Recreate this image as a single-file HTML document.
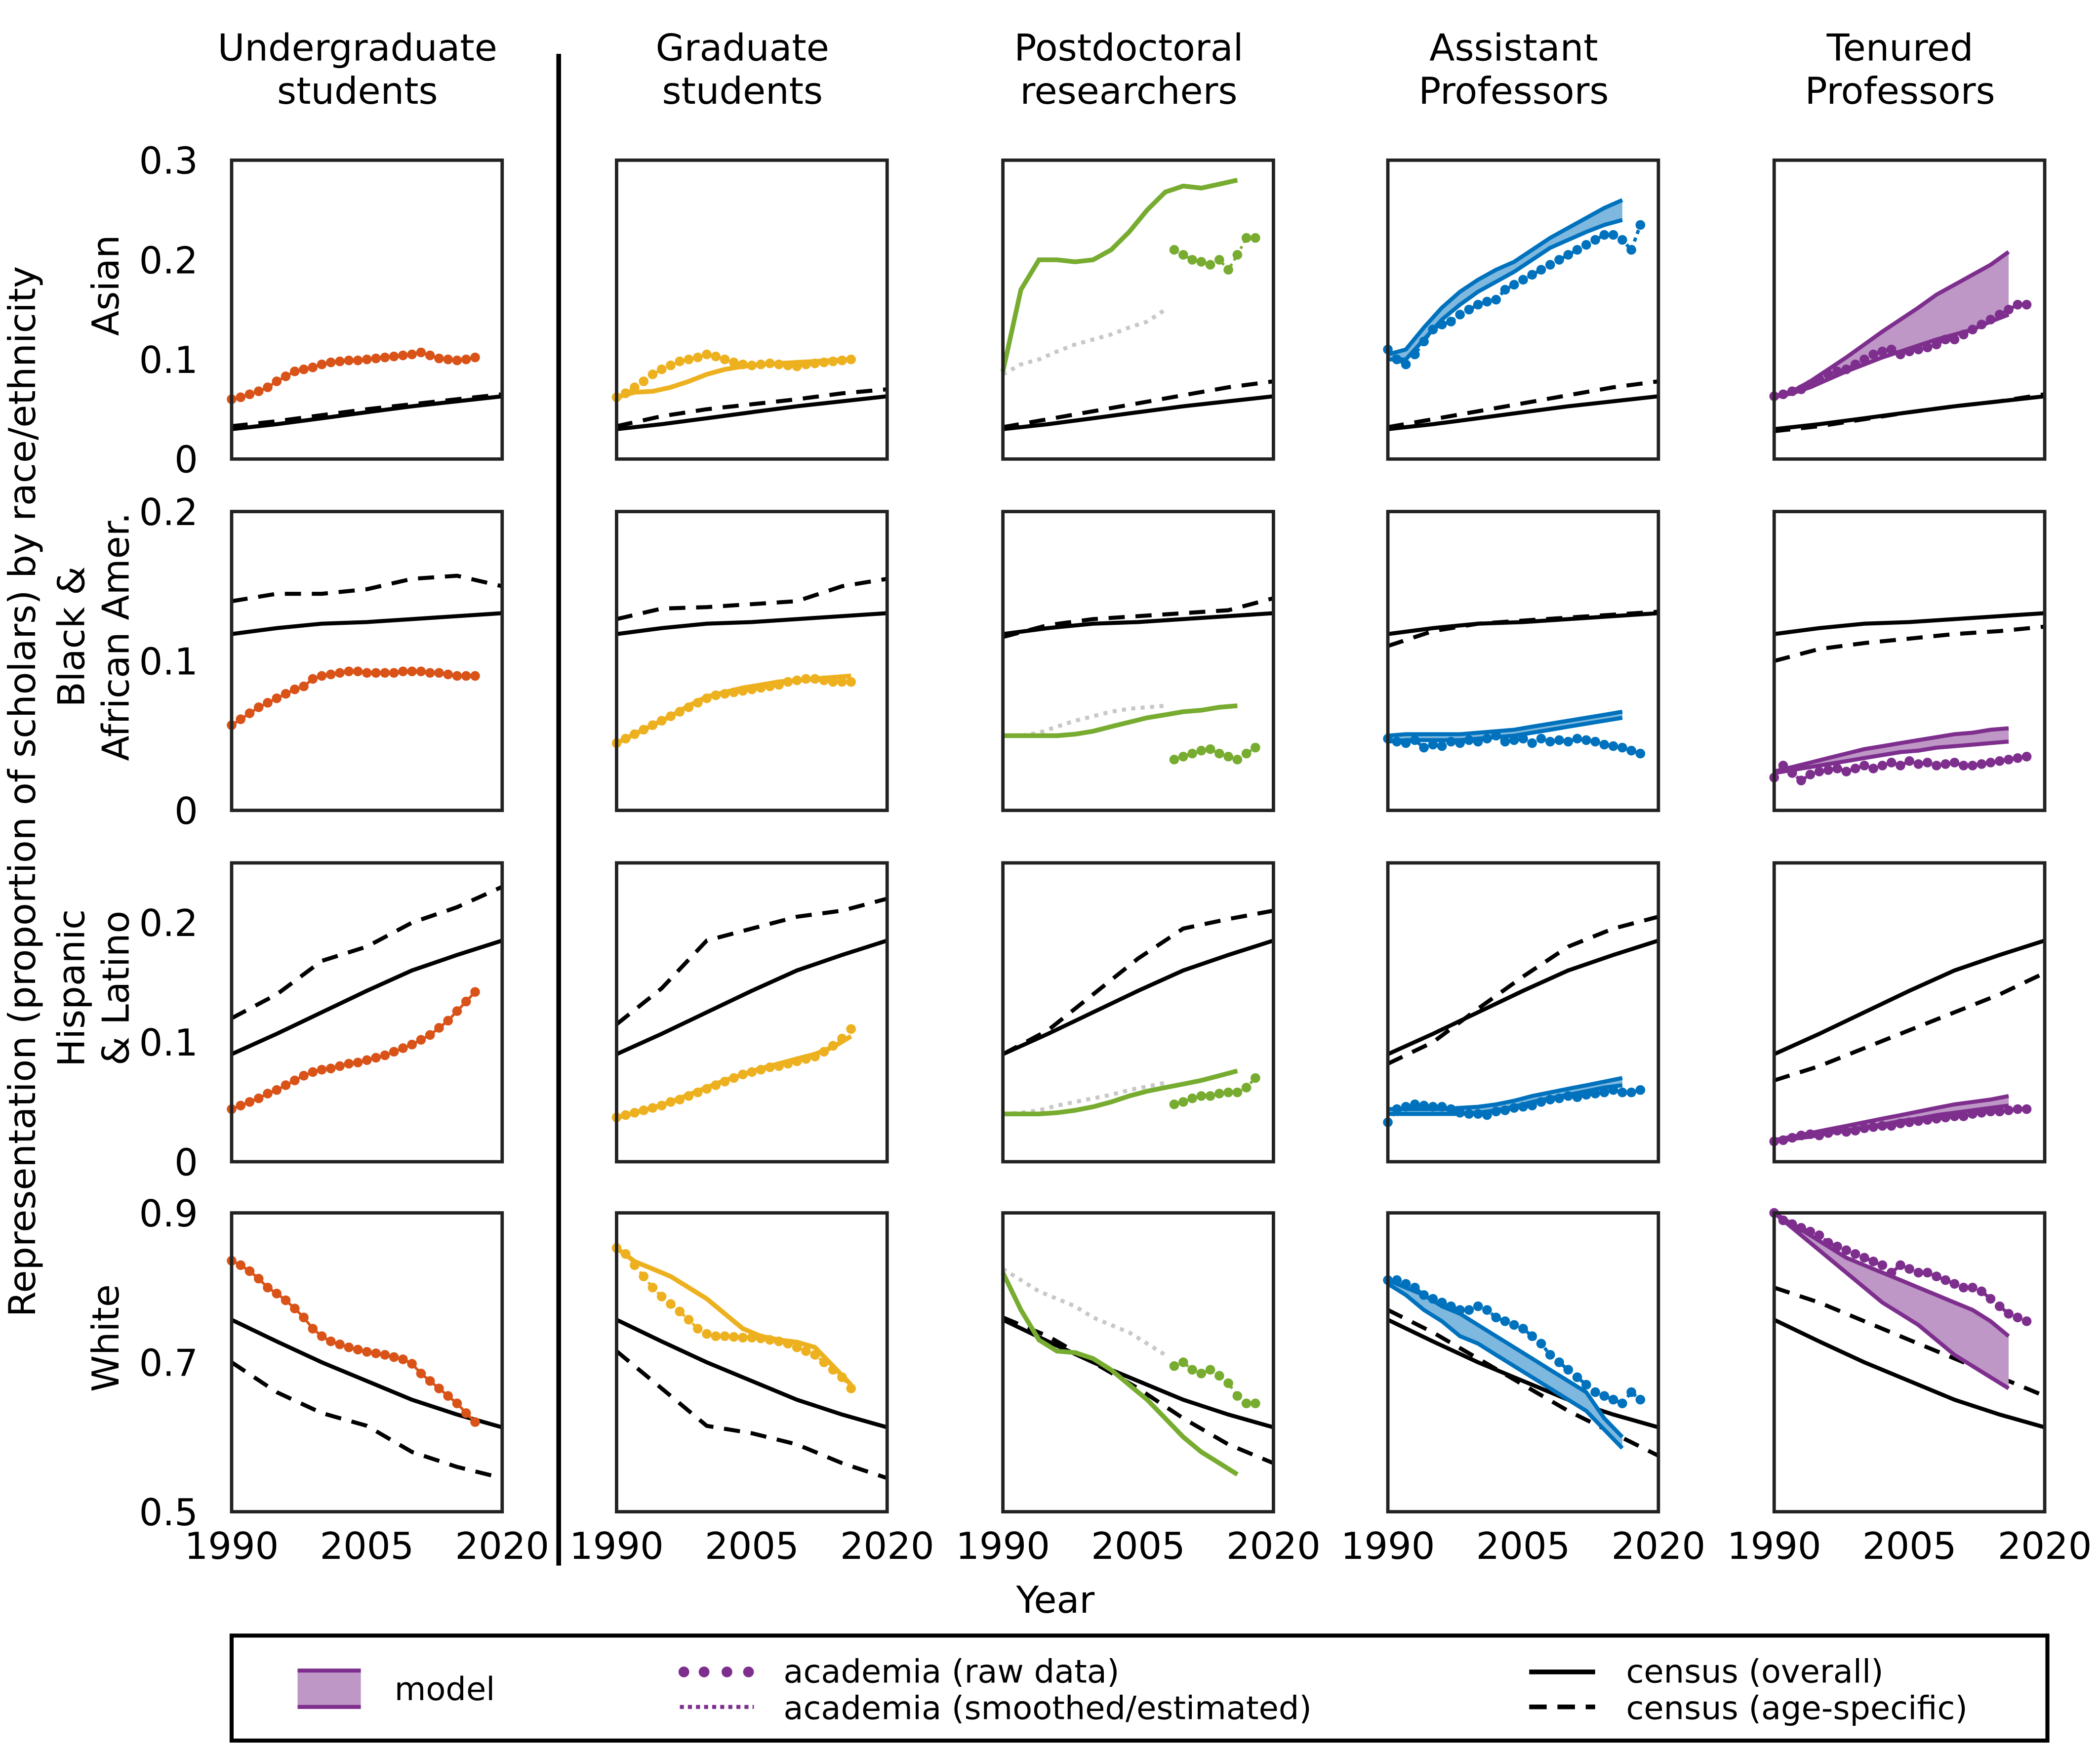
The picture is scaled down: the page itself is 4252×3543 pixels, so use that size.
<!DOCTYPE html>
<html><head><meta charset="utf-8"><style>
html,body{margin:0;padding:0;background:#fff}
svg{display:block;font-family:"DejaVu Sans","Liberation Sans",sans-serif}
</style></head><body>
<svg id="chart" xmlns="http://www.w3.org/2000/svg" width="4252" height="3543" viewBox="0 0 1560 1300">
<rect width="1560" height="1300" fill="#fff"/>
</svg>
<script>
// ---- data ----
const censusYears = [1990,1995,2000,2005,2010,2015,2020];
const overallAsian = [0.03,0.035,0.041,0.047,0.053,0.058,0.063];
const overallBlack = [0.118,0.122,0.125,0.126,0.128,0.13,0.132];
const overallHispanic = [0.09,0.107,0.125,0.143,0.16,0.173,0.185];
const overallWhite = [0.757,0.728,0.70,0.675,0.65,0.63,0.613];
const ageAsian = [[0.033,0.038,0.044,0.05,0.055,0.06,0.065],[0.033,0.043,0.05,0.055,0.06,0.066,0.07],[0.032,0.04,0.048,0.056,0.064,0.072,0.078],[0.032,0.04,0.048,0.056,0.064,0.072,0.078],[0.028,0.033,0.04,0.047,0.053,0.058,0.065]];
const ageBlack = [[0.14,0.145,0.145,0.148,0.155,0.157,0.15],[0.128,0.135,0.136,0.138,0.14,0.15,0.155],[0.116,0.124,0.128,0.13,0.132,0.134,0.142],[0.11,0.12,0.125,0.127,0.129,0.131,0.133],[0.1,0.108,0.112,0.115,0.118,0.12,0.123]];
const ageHispanic = [[0.12,0.14,0.168,0.18,0.2,0.213,0.23],[0.115,0.145,0.185,0.195,0.205,0.21,0.22],[0.09,0.11,0.14,0.17,0.195,0.203,0.21],[0.082,0.1,0.128,0.155,0.18,0.195,0.205],[0.068,0.08,0.095,0.11,0.125,0.14,0.158]];
const ageWhite = [[0.70,0.66,0.632,0.615,0.58,0.56,0.545],[0.715,0.665,0.615,0.605,0.59,0.565,0.545],[0.76,0.735,0.70,0.665,0.625,0.59,0.565],[0.77,0.74,0.705,0.67,0.635,0.605,0.575],[0.80,0.78,0.755,0.73,0.705,0.68,0.655]];

const ugAsian = [0.06,0.062,0.065,0.068,0.072,0.078,0.083,0.088,0.09,0.092,0.095,0.097,0.098,0.099,0.099,0.1,0.101,0.102,0.103,0.104,0.105,0.107,0.104,0.101,0.1,0.099,0.1,0.102];
const ugBlack = [0.057,0.061,0.065,0.069,0.072,0.075,0.078,0.081,0.083,0.088,0.09,0.091,0.092,0.093,0.093,0.092,0.092,0.092,0.092,0.093,0.093,0.093,0.092,0.092,0.091,0.09,0.09,0.09];
const ugHispanic = [0.044,0.047,0.05,0.053,0.057,0.06,0.064,0.068,0.072,0.075,0.077,0.078,0.08,0.082,0.083,0.085,0.087,0.089,0.092,0.095,0.098,0.102,0.106,0.112,0.118,0.126,0.134,0.142];
const ugWhite = [0.836,0.83,0.822,0.812,0.8,0.792,0.783,0.772,0.76,0.745,0.735,0.728,0.724,0.72,0.717,0.714,0.712,0.71,0.707,0.704,0.698,0.685,0.675,0.665,0.655,0.645,0.632,0.62];

const grAsianRaw = [0.062,0.066,0.072,0.078,0.085,0.09,0.094,0.098,0.1,0.102,0.105,0.103,0.1,0.097,0.095,0.094,0.095,0.096,0.095,0.094,0.093,0.095,0.096,0.097,0.098,0.099,0.1];
const grAsianModel = [0.062,0.067,0.068,0.072,0.078,0.085,0.09,0.093,0.095,0.096,0.097,0.098,0.099,0.1];
const grBlackRaw = [0.045,0.048,0.051,0.054,0.057,0.06,0.063,0.066,0.069,0.072,0.075,0.077,0.078,0.079,0.08,0.081,0.082,0.083,0.084,0.086,0.087,0.088,0.088,0.087,0.086,0.086,0.086];
const grBlackModel = [0.045,0.051,0.057,0.063,0.07,0.076,0.079,0.082,0.084,0.086,0.087,0.088,0.089,0.09];
const grHispanicRaw = [0.037,0.039,0.041,0.043,0.045,0.047,0.05,0.052,0.055,0.058,0.061,0.064,0.067,0.07,0.073,0.075,0.077,0.079,0.08,0.082,0.084,0.086,0.088,0.092,0.097,0.103,0.111];
const grHispanicModel = [0.037,0.041,0.045,0.05,0.056,0.062,0.068,0.073,0.078,0.082,0.086,0.09,0.096,0.105];
const grWhiteRaw = [0.853,0.845,0.83,0.815,0.8,0.788,0.778,0.768,0.757,0.745,0.738,0.735,0.735,0.734,0.733,0.733,0.732,0.73,0.728,0.725,0.72,0.715,0.71,0.7,0.69,0.68,0.665];
const grWhiteModel = [0.853,0.835,0.825,0.815,0.8,0.785,0.765,0.745,0.735,0.73,0.727,0.72,0.695,0.67];

const pdAsianModel = [0.088,0.17,0.2,0.2,0.198,0.2,0.21,0.228,0.25,0.268,0.274,0.272,0.276,0.28];
const pdAsianGrey = [0.085,0.095,0.1,0.108,0.115,0.12,0.125,0.132,0.138,0.15];
const pdAsianRaw = [0.21,0.205,0.2,0.198,0.195,0.2,0.19,0.205,0.222,0.222];
const pdBlackModel = [0.05,0.05,0.05,0.05,0.051,0.053,0.056,0.059,0.062,0.064,0.066,0.067,0.069,0.07];
const pdBlackGrey = [0.05,0.05,0.052,0.056,0.06,0.063,0.066,0.068,0.069,0.07];
const pdBlackRaw = [0.034,0.036,0.038,0.04,0.041,0.038,0.036,0.034,0.038,0.042];
const pdHispanicModel = [0.04,0.04,0.04,0.041,0.043,0.046,0.05,0.055,0.059,0.062,0.065,0.068,0.072,0.076];
const pdHispanicGrey = [0.04,0.041,0.043,0.047,0.05,0.053,0.056,0.06,0.063,0.066];
const pdHispanicRaw = [0.048,0.05,0.053,0.055,0.055,0.057,0.058,0.058,0.062,0.07];
const pdWhiteModel = [0.82,0.77,0.73,0.715,0.713,0.705,0.69,0.67,0.65,0.625,0.6,0.58,0.565,0.55];
const pdWhiteGrey = [0.825,0.81,0.795,0.785,0.775,0.76,0.75,0.74,0.725,0.71];
const pdWhiteRaw = [0.695,0.7,0.69,0.685,0.69,0.682,0.672,0.655,0.645,0.645];

const apAsianLo = [0.1,0.1,0.12,0.14,0.155,0.168,0.178,0.188,0.2,0.212,0.22,0.228,0.235,0.24];
const apAsianHi = [0.105,0.11,0.132,0.152,0.168,0.18,0.19,0.198,0.21,0.222,0.232,0.242,0.252,0.26];
const apAsianRaw = [0.11,0.1,0.095,0.105,0.118,0.13,0.135,0.138,0.145,0.15,0.155,0.158,0.16,0.17,0.175,0.18,0.185,0.19,0.195,0.2,0.205,0.21,0.215,0.22,0.225,0.225,0.22,0.21,0.235];
const apBlackLo = [0.046,0.047,0.047,0.047,0.047,0.048,0.049,0.05,0.052,0.054,0.056,0.058,0.06,0.062];
const apBlackHi = [0.05,0.051,0.051,0.051,0.051,0.052,0.053,0.054,0.056,0.058,0.06,0.062,0.064,0.066];
const apBlackRaw = [0.048,0.046,0.045,0.047,0.042,0.044,0.043,0.046,0.045,0.047,0.046,0.048,0.05,0.046,0.047,0.048,0.045,0.048,0.046,0.047,0.046,0.048,0.047,0.046,0.044,0.043,0.042,0.04,0.038];
const apHispanicLo = [0.04,0.04,0.04,0.04,0.04,0.041,0.043,0.046,0.05,0.053,0.056,0.059,0.062,0.064];
const apHispanicHi = [0.044,0.044,0.044,0.044,0.045,0.046,0.048,0.051,0.055,0.058,0.061,0.064,0.067,0.07];
const apHispanicRaw = [0.033,0.044,0.046,0.048,0.047,0.046,0.046,0.044,0.041,0.04,0.04,0.039,0.042,0.043,0.045,0.046,0.047,0.05,0.052,0.053,0.055,0.054,0.056,0.057,0.058,0.06,0.058,0.058,0.06];
const apWhiteLo = [0.805,0.79,0.77,0.755,0.735,0.725,0.71,0.695,0.68,0.665,0.65,0.635,0.61,0.585];
const apWhiteHi = [0.81,0.8,0.79,0.775,0.765,0.75,0.735,0.72,0.705,0.69,0.675,0.66,0.625,0.6];
const apWhiteRaw = [0.81,0.81,0.805,0.8,0.79,0.785,0.78,0.775,0.77,0.77,0.775,0.77,0.76,0.755,0.75,0.745,0.735,0.725,0.71,0.7,0.69,0.68,0.67,0.66,0.655,0.65,0.645,0.66,0.65];

const tpAsianLo = [0.062,0.066,0.072,0.08,0.088,0.095,0.102,0.108,0.114,0.12,0.125,0.13,0.138,0.145];
const tpAsianHi = [0.063,0.068,0.078,0.09,0.102,0.115,0.128,0.14,0.152,0.165,0.175,0.185,0.195,0.208];
const tpAsianRaw = [0.063,0.065,0.068,0.07,0.075,0.08,0.085,0.088,0.09,0.095,0.1,0.105,0.108,0.11,0.105,0.108,0.11,0.112,0.115,0.12,0.12,0.125,0.13,0.135,0.14,0.145,0.15,0.155,0.155];
const tpBlackLo = [0.025,0.027,0.029,0.031,0.033,0.035,0.037,0.039,0.04,0.042,0.043,0.044,0.045,0.046];
const tpBlackHi = [0.026,0.029,0.032,0.035,0.038,0.041,0.043,0.045,0.047,0.049,0.051,0.052,0.054,0.055];
const tpBlackRaw = [0.022,0.03,0.025,0.02,0.024,0.026,0.027,0.028,0.026,0.028,0.03,0.028,0.03,0.032,0.03,0.033,0.031,0.032,0.03,0.031,0.032,0.03,0.03,0.031,0.032,0.033,0.034,0.035,0.036];
const tpHispanicLo = [0.017,0.019,0.021,0.024,0.026,0.029,0.031,0.034,0.036,0.039,0.041,0.043,0.045,0.047];
const tpHispanicHi = [0.018,0.021,0.024,0.027,0.03,0.033,0.036,0.039,0.042,0.045,0.048,0.05,0.052,0.055];
const tpHispanicRaw = [0.017,0.018,0.02,0.022,0.023,0.022,0.024,0.026,0.025,0.026,0.028,0.029,0.03,0.03,0.032,0.033,0.034,0.035,0.036,0.037,0.038,0.038,0.04,0.041,0.042,0.042,0.043,0.044,0.044];
const tpWhiteLo = [0.9,0.88,0.86,0.84,0.82,0.8,0.78,0.765,0.75,0.73,0.71,0.695,0.68,0.665];
const tpWhiteHi = [0.9,0.885,0.87,0.855,0.84,0.83,0.82,0.81,0.8,0.79,0.78,0.77,0.755,0.735];
const tpWhiteRaw = [0.9,0.89,0.885,0.88,0.875,0.87,0.86,0.855,0.85,0.845,0.84,0.835,0.83,0.82,0.83,0.825,0.82,0.82,0.815,0.81,0.805,0.8,0.8,0.795,0.785,0.775,0.765,0.76,0.755];

const columnTitles = [["Undergraduate","students"],["Graduate","students"],["Postdoctoral","researchers"],["Assistant","Professors"],["Tenured","Professors"]];
const rowLabels = [["Asian"],["Black &","African Amer."],["Hispanic","& Latino"],["White"]];
const yTickLabels = [["0","0.1","0.2","0.3"],["0","0.1","0.2"],["0","0.1","0.2"],["0.5","0.7","0.9"]];
const yTickValues = [[0,0.1,0.2,0.3],[0,0.1,0.2],[0,0.1,0.2],[0.5,0.7,0.9]];
const xTickLabels = ["1990","2005","2020"];
const xTickValues = [1990,2005,2020];

// ---- layout ----
const NS="http://www.w3.org/2000/svg";
const svg=document.getElementById('chart');
const colL=[172,458,745,1031,1318], colW=201;
const rowT=[119,380,641,901], rowH=222;
const yRange=[[0,0.3],[0,0.2],[0,0.25],[0.5,0.9]];
const colors=['#d95319','#edb120','#77ac30','#0072bd','#7e2f8e'];
const fills=['#eca98c','#f6d88f','#bbd597','#7fb8de','#be97c6'];
const FS=27.5;
function el(tag,attrs,parent){const e=document.createElementNS(NS,tag);for(const k in attrs)e.setAttribute(k,attrs[k]);(parent||svg).appendChild(e);return e;}
function txt(s,x,y,size,anchor,parent,extra){const t=el('text',Object.assign({x:x,y:y,'font-size':size,'text-anchor':anchor||'middle',fill:'#000'},extra||{}),parent);t.textContent=s;return t;}
function seq(start,step,n){const a=[];for(let i=0;i<n;i++)a.push(start+i*step);return a;}

const raceKeys=['Asian','Black','Hispanic','White'];
const overall=[overallAsian,overallBlack,overallHispanic,overallWhite];
const ageSpec=[ageAsian,ageBlack,ageHispanic,ageWhite];
const ug=[ugAsian,ugBlack,ugHispanic,ugWhite];
const grRaw=[grAsianRaw,grBlackRaw,grHispanicRaw,grWhiteRaw], grModel=[grAsianModel,grBlackModel,grHispanicModel,grWhiteModel];
const pdModel=[pdAsianModel,pdBlackModel,pdHispanicModel,pdWhiteModel], pdGrey=[pdAsianGrey,pdBlackGrey,pdHispanicGrey,pdWhiteGrey], pdRaw=[pdAsianRaw,pdBlackRaw,pdHispanicRaw,pdWhiteRaw];
const apLo=[apAsianLo,apBlackLo,apHispanicLo,apWhiteLo], apHi=[apAsianHi,apBlackHi,apHispanicHi,apWhiteHi], apRaw=[apAsianRaw,apBlackRaw,apHispanicRaw,apWhiteRaw];
const tpLo=[tpAsianLo,tpBlackLo,tpHispanicLo,tpWhiteLo], tpHi=[tpAsianHi,tpBlackHi,tpHispanicHi,tpWhiteHi], tpRaw=[tpAsianRaw,tpBlackRaw,tpHispanicRaw,tpWhiteRaw];

function pts(xs,ys,X,Y){return xs.map((x,i)=>X(x).toFixed(1)+','+Y(ys[i]).toFixed(1)).join(' ');}

for(let r=0;r<4;r++){
  for(let c=0;c<5;c++){
    const L=colL[c],T=rowT[r],B=T+rowH,R=L+colW,[mn,mx]=yRange[r];
    const X=y=>L+(y-1990)/30*colW, Y=v=>B-(v-mn)/(mx-mn)*rowH;
    const g=el('g',{'clip-path':'url(#clip'+r+c+')'});
    
    
    const cp=el('clipPath',{id:'clip'+r+c});el('rect',{x:L-6,y:T-6,width:colW+12,height:rowH+12},cp);svg.appendChild(cp);
    const co=el('polyline',{points:pts(censusYears,overall[r],X,Y),fill:'none',stroke:'#000','stroke-width':3},g);
    
    const ca=el('polyline',{points:pts(censusYears,ageSpec[r][c],X,Y),fill:'none',stroke:'#000','stroke-width':3,'stroke-dasharray':'12 8'},g);
    
    const col=colors[c];
    function dots(xs,ys){xs.forEach((x,i)=>{const d=el('circle',{cx:X(x),cy:Y(ys[i]),r:3.6,fill:col},g);});}
    function band(lo,hi){const xs=seq(1990,2,lo.length);
      const p=el('polygon',{points:pts(xs,lo,X,Y)+' '+pts(xs.slice().reverse(),hi.slice().reverse(),X,Y),fill:fills[c],stroke:'none'},g);
      
      [lo,hi].forEach(s=>{const l=el('polyline',{points:pts(xs,s,X,Y),fill:'none',stroke:col,'stroke-width':3},g);});}
    if(c===0){
      const xs=seq(1990,1,ug[r].length);
      const l=el('polyline',{points:pts(xs,ug[r],X,Y),fill:'none',stroke:col,'stroke-width':2},g);
      dots(xs,ug[r]);
    } else if(c===1){
      const xs=seq(1990,1,grRaw[r].length);
      const l2=el('polyline',{points:pts(xs,grRaw[r],X,Y),fill:'none',stroke:col,'stroke-width':2,'stroke-dasharray':'2 3'},g);
      dots(xs,grRaw[r]);
      const l=el('polyline',{points:pts(seq(1990,2,grModel[r].length),grModel[r],X,Y),fill:'none',stroke:col,'stroke-width':3.5},g);
    } else if(c===2){
      const gl=el('polyline',{points:pts(seq(1990,2,pdGrey[r].length),pdGrey[r],X,Y),fill:'none',stroke:'#c8c8c8','stroke-width':3,'stroke-dasharray':'3 4'},g);
      const l=el('polyline',{points:pts(seq(1990,2,pdModel[r].length),pdModel[r],X,Y),fill:'none',stroke:col,'stroke-width':3.5},g);
      const xs=seq(2009,1,pdRaw[r].length);
      const l2=el('polyline',{points:pts(xs,pdRaw[r],X,Y),fill:'none',stroke:col,'stroke-width':2,'stroke-dasharray':'2 3'},g);
      dots(xs,pdRaw[r]);
    } else {
      const lo=c===3?apLo[r]:tpLo[r], hi=c===3?apHi[r]:tpHi[r], raw=c===3?apRaw[r]:tpRaw[r];
      band(lo,hi);
      const xs=seq(1990,1,raw.length);
      const l2=el('polyline',{points:pts(xs,raw,X,Y),fill:'none',stroke:col,'stroke-width':2.5,'stroke-dasharray':'3 3'},g);
      dots(xs,raw);
    }
    const fr=el('rect',{x:L,y:T,width:colW,height:rowH,fill:'none',stroke:'#222','stroke-width':2.5});
    
    if(c===0){
      yTickValues[r].forEach((v,i)=>{const t=txt(yTickLabels[r][i],147,Y(v)+10,FS,'end');});
    }
    if(r===3){
      xTickValues.forEach((v,i)=>{const t=txt(xTickLabels[i],X(v),1158,FS,'middle');});
    }
  }
}
columnTitles.forEach((t,c)=>{t.forEach((s,i)=>{const e=txt(s,colL[c]+colW/2-7,45+i*32,FS);});});
rowLabels.forEach((t,r)=>{const cy=rowT[r]+rowH/2-18;const n=t.length;t.forEach((s,i)=>{const x=88+(i-(n-1)/2)*33-(n>1?9:0);const e=txt(s,x,cy,FS,'middle',null,{transform:'rotate(-90 '+x+' '+cy+')'});});});
let e=txt('Representation (proportion of scholars) by race/ethnicity',26,588,FS,'middle',null,{transform:'rotate(-90 26 588)'});

e=txt('Year',784,1198,FS);
e=el('line',{x1:415,y1:40,x2:415,y2:1163,stroke:'#000','stroke-width':3.5});
const lg=el('g',{});
el('rect',{x:172,y:1215,width:1349,height:78,fill:'#fff',stroke:'#000','stroke-width':3},lg);
el('rect',{x:221,y:1241,width:47,height:27,fill:'#be97c6'},lg);
el('line',{x1:221,y1:1241,x2:268,y2:1241,stroke:'#7e2f8e','stroke-width':3},lg);
el('line',{x1:221,y1:1268,x2:268,y2:1268,stroke:'#7e2f8e','stroke-width':3},lg);
txt('model',293,1263,24,'start',lg);
[508,523,540,556].forEach(x=>el('circle',{cx:x,cy:1242,r:4,fill:'#7e2f8e'},lg));
el('line',{x1:505,y1:1268,x2:560,y2:1268,stroke:'#7e2f8e','stroke-width':3,'stroke-dasharray':'3 3'},lg);
txt('academia (raw data)',582,1250,24,'start',lg);
txt('academia (smoothed/estimated)',582,1277,24,'start',lg);
el('line',{x1:1136,y1:1242,x2:1185,y2:1242,stroke:'#000','stroke-width':3.5},lg);
el('line',{x1:1136,y1:1268,x2:1185,y2:1268,stroke:'#000','stroke-width':3.5,'stroke-dasharray':'13 8'},lg);
txt('census (overall)',1208,1250,24,'start',lg);
txt('census (age-specific)',1208,1277,24,'start',lg);
</script>
</body></html>
